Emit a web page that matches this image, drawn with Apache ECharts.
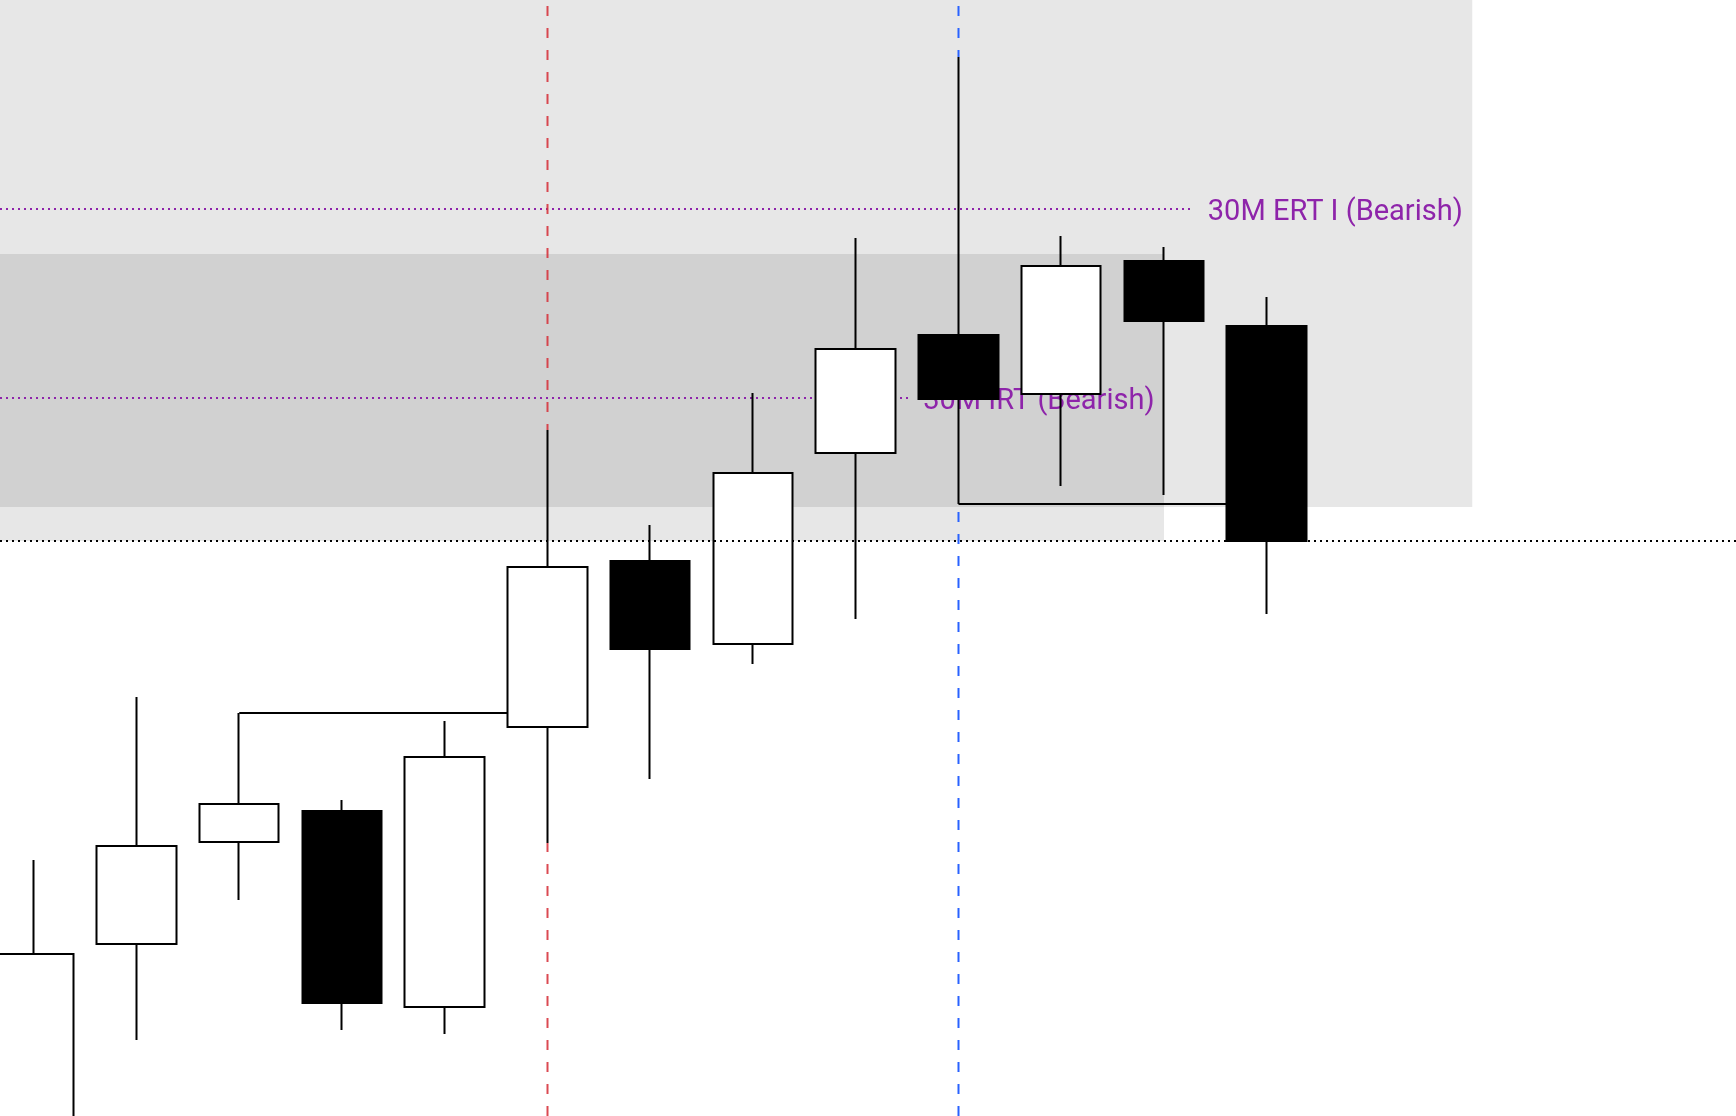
<!DOCTYPE html>
<html>
<head>
<meta charset="utf-8">
<script src="https://cdn.jsdelivr.net/npm/echarts@6/dist/echarts.min.js"></script>
<style>
html, body { margin: 0; padding: 0; background: #ffffff; }
#chart { width: 1736px; height: 1116px; }
</style>
</head>
<body>
<div id="chart"></div>
<script>
// ---- data (bar index on x, price on y) ----
const candleIndex = [0, 1, 2, 3, 4, 5, 6, 7, 8, 9, 10, 11, 12];
const opens  = [18195.00, 18264.00, 18289.50, 18297.25, 18248.25, 18318.25, 18359.75, 18339.00, 18386.75, 18416.25, 18401.50, 18434.75, 18418.50];
const closes = [18261.50, 18288.50, 18299.00, 18249.25, 18310.75, 18358.25, 18337.75, 18381.75, 18412.75, 18400.25, 18433.50, 18419.75, 18364.75];
const lows   = [18185.00, 18240.00, 18275.00, 18242.50, 18241.50, 18289.25, 18305.25, 18334.00, 18345.25, 18374.00, 18378.50, 18376.25, 18346.50];
const highs  = [18285.00, 18325.75, 18321.75, 18300.00, 18319.75, 18392.50, 18368.75, 18401.75, 18440.50, 18485.75, 18441.00, 18438.25, 18425.75];

// view range
const xRange = [-0.328467, 16.566910];
const yRange = [18221, 18500];

// levels and labels
const ertLevel = 18447.75;
const ertLabel = '30M ERT I (Bearish)';
const ertEndIndex = 11.29;
const irtLevel = 18400.5;
const irtLabel = '30M IRT (Bearish)';
const irtEndIndex = 8.52;
const closeLevel = 18364.75;

// zones
const zoneLowerEnd = 11;
const zoneLowerTop = 18436.5;
const zoneLowerBottom = 18364.75;
const zoneUpperEnd = 14;
const zoneUpperBottom = 18373.25;

// vertical session markers (bar index)
const redMarkerIndex = 5;
const blueMarkerIndex = 9;

// swept levels: [fromIndex, toIndex, price]
const sweepHigh = [2, 5, 18321.75];
const sweepLow = [9, 12, 18374.00];

// ---- build ----
const CHART_H = 1116;
const candleData = candleIndex.map((x, i) => [x, opens[i], closes[i], lows[i], highs[i]]);

const FONT = 'Roboto';
const purple = '#8e24aa';

function hLine(name, x0, x1, y, color, dash, z, label) {
  const s = {
    name: name,
    type: 'line',
    z: z,
    silent: true,
    symbol: 'none',
    showSymbol: false,
    animation: false,
    data: [[x0, y], [x1, y]],
    lineStyle: { color: color, width: 2, type: dash }
  };
  if (label) {
    s.endLabel = {
      show: true,
      formatter: label,
      color: purple,
      fontFamily: FONT,
      fontSize: 29,
      distance: 14,
      offset: [0, 4]
    };
  }
  return s;
}
// vertical dashed marker drawn from the bottom upwards, skipping the span of the
// candle it passes through (the candle sits on top of it); the upper part keeps
// the same dash phase as one continuous line from the bottom
function vLines(name, idx, color, z) {
  const pxPerPrice = CHART_H / (yRange[1] - yRange[0]);
  const base = {
    type: 'line', z: z, silent: true, symbol: 'none', showSymbol: false, animation: false
  };
  return [
    Object.assign({}, base, {
      name: name + 'Lower',
      data: [[idx, yRange[0]], [idx, lows[idx]]],
      lineStyle: { color: color, width: 2, type: [10, 12], dashOffset: 0 }
    }),
    Object.assign({}, base, {
      name: name + 'Upper',
      data: [[idx, highs[idx]], [idx, yRange[1]]],
      lineStyle: { color: color, width: 2, type: [10, 12],
                   dashOffset: (highs[idx] - yRange[0]) * pxPerPrice }
    })
  ];
}

const option = {
  animation: false,
  backgroundColor: '#ffffff',
  grid: { left: 0, right: 0, top: 0, bottom: 0, containLabel: false },
  xAxis: {
    type: 'value', min: xRange[0], max: xRange[1], show: false,
    splitLine: { show: false }
  },
  yAxis: {
    type: 'value', min: yRange[0], max: yRange[1], show: false, scale: true,
    splitLine: { show: false }
  },
  series: [
    {
      name: 'zones',
      type: 'line',
      z: 1,
      silent: true,
      data: [],
      markArea: {
        silent: true,
        z: 1,
        itemStyle: { color: 'rgba(0,0,0,0.094)' },
        data: [
          [{ coord: [xRange[0], zoneLowerTop] }, { coord: [zoneLowerEnd, zoneLowerBottom] }],
          [{ coord: [xRange[0], yRange[1]] }, { coord: [zoneUpperEnd, zoneUpperBottom] }]
        ]
      }
    },
    hLine('ert', xRange[0], ertEndIndex, ertLevel, purple, [2, 4], 3, ertLabel),
    hLine('irt', xRange[0], irtEndIndex, irtLevel, purple, [2, 4], 3, irtLabel),
    ...vLines('red', redMarkerIndex, 'rgba(214,48,58,0.88)', 3),
    ...vLines('blue', blueMarkerIndex, '#2962ff', 3),
    hLine('sweepHigh', sweepHigh[0], sweepHigh[1], sweepHigh[2], '#000000', 'solid', 3),
    hLine('sweepLow', sweepLow[0], sweepLow[1], sweepLow[2], '#000000', 'solid', 3),
    {
      name: 'price',
      type: 'candlestick',
      z: 5,
      silent: true,
      barWidth: 80,
      data: candleData,
      itemStyle: {
        color: '#ffffff',
        color0: '#000000',
        borderColor: '#000000',
        borderColor0: '#000000',
        borderWidth: 2
      }
    },
    hLine('close', xRange[0], xRange[1], closeLevel, '#000000', [2, 4], 7)
  ]
};

const chart = echarts.init(document.getElementById('chart'), null, { renderer: 'canvas' });
chart.setOption(option);
</script>
</body>
</html>
